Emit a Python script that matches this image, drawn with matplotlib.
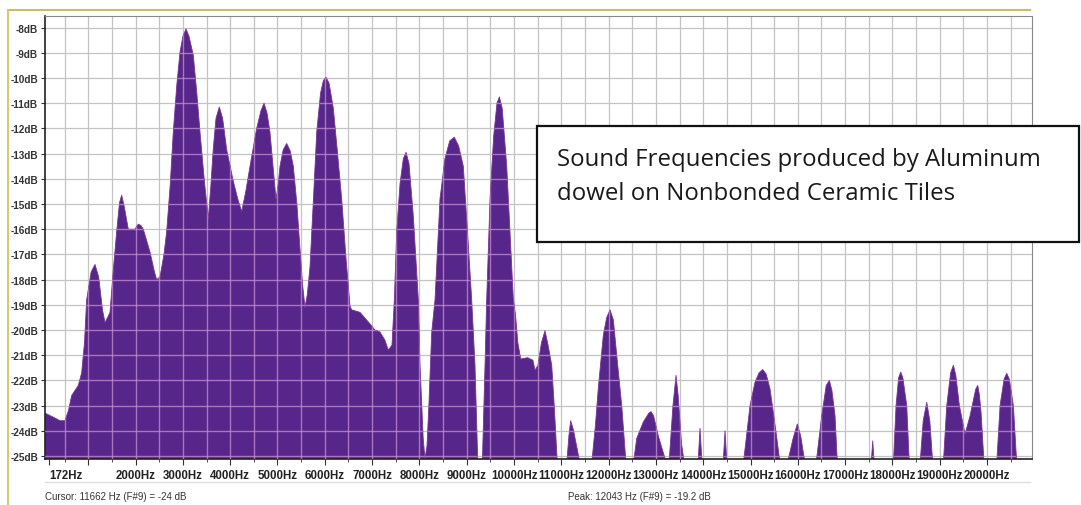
import matplotlib
matplotlib.use("Agg")
import matplotlib.pyplot as plt
from matplotlib.lines import Line2D
from matplotlib.patches import Rectangle

# spectrum: frequency in Hz, level in dB
freqs = [85, 250, 402, 507, 580, 649, 789, 860, 920, 966, 1060, 1142, 1220, 1300, 1353,
         1410, 1459, 1530, 1600, 1660, 1706, 1760, 1846, 1987, 2057, 2110, 2163, 2304,
         2400, 2446, 2516, 2600, 2657, 2730, 2797, 2870, 2939, 3000, 3066, 3130, 3220,
         3290, 3362, 3450, 3537, 3590, 3643, 3700, 3770, 3840, 3926, 4066, 4160, 4243,
         4330, 4419, 4560, 4650, 4715, 4780, 4841, 4910, 4968, 5010, 5053, 5120, 5195,
         5270, 5334, 5410, 5476, 5530, 5581, 5630, 5687, 5760, 5829, 5910, 5970, 6025,
         6090, 6180, 6260, 6357, 6450, 6533, 6568, 6744, 6956, 7060, 7167, 7270, 7343,
         7420, 7470, 7520, 7590, 7660, 7717, 7780, 7872, 7977, 8013, 8080, 8118, 8160,
         8200, 8260, 8330, 8435, 8540, 8640, 8737, 8830, 8928, 9030, 9105, 9175, 9235,
         9330, 9387, 9422, 9493, 9570, 9640, 9690, 9750, 9846, 9986, 10032, 10080, 10142,
         10288, 10400, 10444, 10506, 10580, 10655, 10720, 10797, 10850, 10916,
         11114, 11160, 11198, 11260, 11395, 11642, 11720, 11782, 11888, 11960, 12030,
         12100, 12171, 12277, 12368, 12523, 12594, 12734, 12850, 12896, 12950, 13050,
         13192, 13284, 13360, 13425, 13470, 13540, 13601, 13890, 13932, 13975, 14420,
         14461, 14500, 14848, 14989, 15095, 15180, 15257, 15330, 15412, 15539, 15624,
         15778, 15900, 15989, 16060, 16152, 16385, 16505, 16600, 16667, 16720, 16786,
         16836, 17550, 17583, 17615, 18020, 18076, 18130, 18175, 18220, 18302, 18357,
         18584, 18650, 18725, 18790, 18852, 19076, 19148, 19230, 19288, 19340, 19415,
         19535, 19641, 19760, 19803, 19840, 19873, 19937, 20204, 20275, 20360, 20416,
         20470, 20556, 20628, 20950]
levels = [-23.3, -23.45, -23.6, -23.6, -23.2, -22.6, -22.2, -21.7, -20.5, -18.8, -17.7, -17.4,
          -17.9, -19.2, -19.7, -19.5, -19.3, -17.6, -16.1, -14.95, -14.65, -15.1, -16.0,
          -16.0, -15.8, -15.85, -16.0, -16.9, -17.7, -18.0, -17.9, -17.0, -16.1, -14.3,
          -12.15, -10.3, -8.97, -8.35, -8.05, -8.35, -9.1, -10.5, -12.15, -14.0, -15.6,
          -14.3, -12.8, -11.6, -11.15, -11.6, -12.85, -14.1, -14.8, -15.3, -14.5, -13.5,
          -12.0, -11.3, -11.0, -11.4, -12.15, -13.6, -14.8, -14.3, -13.5, -12.85, -12.6,
          -12.9, -13.5, -15.0, -16.8, -18.2, -19.1, -18.6, -17.5, -14.8, -12.15, -10.6,
          -10.1, -9.97, -10.2, -11.2, -12.8, -14.8, -17.2, -19.05, -19.2, -19.3, -19.76,
          -20.0, -20.08, -20.4, -20.8, -20.6, -18.8, -16.1, -14.2, -13.2, -12.95, -13.4,
          -15.5, -18.8, -21.4, -24.3, -25.1, -24.6, -23.0, -20.1, -18.8, -14.8, -13.2,
          -12.5, -12.35, -12.7, -13.5, -16.5, -18.8, -21.4, -25.3, -25.3, -21.4, -18.8,
          -14.8, -12.3, -11.0, -10.75, -11.2, -13.5, -18.8, -19.4, -20.5, -21.15, -21.1,
          -21.2, -21.6, -21.4, -20.5, -20.03, -20.6, -21.4, -23.0, -25.3,
          -25.3, -24.2, -23.6, -24.0, -25.3, -25.3, -23.8, -22.3, -20.2, -19.5, -19.2,
          -19.6, -21.0, -23.0, -25.3, -25.3, -24.3, -23.65, -23.3, -23.24, -23.4, -24.2,
          -25.1, -25.1, -23.0, -21.8, -22.6, -24.5, -25.3, -25.3, -23.9, -25.3, -25.3,
          -24.0, -25.3, -25.3, -23.0, -22.07, -21.7, -21.57, -21.75, -22.34, -24.05, -25.3,
          -25.3, -24.3, -23.73, -24.2, -25.3, -25.3, -23.4, -22.2, -22.0, -22.4, -23.4,
          -25.3, -25.3, -24.4, -25.3, -25.3, -23.0, -21.9, -21.67, -21.9, -23.0, -25.3,
          -25.3, -23.6, -22.87, -23.6, -25.3, -25.3, -23.0, -21.7, -21.4, -21.8, -23.0,
          -24.13, -23.4, -22.35, -22.2, -22.6, -23.27, -25.3, -25.3, -23.0, -21.95, -21.72,
          -21.95, -23.0, -25.3, -25.3]

xtick_pos = [172] + list(range(1000, 20001, 1000))
xtick_labels = ["172Hz", ""] + [f"{f}Hz" for f in range(2000, 20001, 1000)]
ytick_pos = list(range(-8, -26, -1))
ytick_labels = [f"{v}dB" for v in ytick_pos]

cursor_text = "Cursor: 11662 Hz (F#9) = -24 dB"
peak_text = "Peak: 12043 Hz (F#9) = -19.2 dB"
note_lines = ["Sound Frequencies produced by Aluminum", "dowel on Nonbonded Ceramic Tiles"]

W, H = 1081, 506
fig = plt.figure(figsize=(W / 100, H / 100), dpi=100)
fig.patch.set_facecolor("white")

ax = fig.add_axes([45 / W, 1 - 460 / H, 987 / W, 443 / H])
ax.set_xlim(85, 20950)
ax.set_ylim(-25.12, -7.54)

fill_col = "#56268a"
poly = ax.fill_between(freqs, levels, -30, color=fill_col, edgecolor="#7b3494",
                       linewidth=0.6, zorder=2)

# grid: grey on white, light pink where it crosses the filled area
clip = poly.get_paths()[0]
for v in ytick_pos:
    ax.axhline(v, color="#c4c4c4", lw=0.9, zorder=1)
    ln = ax.axhline(v, color="#c98fd4", lw=1.0, alpha=0.75, zorder=3)
    ln.set_clip_path(clip, ax.transData)
for f in range(500, 20600, 500):
    ax.axvline(f, color="#c4c4c4", lw=0.9, zorder=1)
    ln = ax.axvline(f, color="#c98fd4", lw=1.0, alpha=0.75, zorder=3)
    ln.set_clip_path(clip, ax.transData)

ax.set_xticks(xtick_pos)
ax.set_xticklabels(xtick_labels, fontsize=8.3, fontweight="bold",
                   family="Liberation Sans", color="#222222")
ax.set_xticks(range(500, 20600, 1000), minor=True)
ax.xaxis.get_majorticklabels()[0].set_horizontalalignment("left")
ax.set_yticks(ytick_pos)
ax.set_yticklabels(ytick_labels, fontsize=7.2, fontweight="bold",
                   family="Liberation Sans", color="#333333")
ax.tick_params(axis="x", which="major", length=4, pad=3, color="#333333")
ax.tick_params(axis="x", which="minor", length=2, color="#333333")
ax.tick_params(axis="y", length=3, pad=2, color="#333333")

for s in ["left", "bottom"]:
    ax.spines[s].set_color("#222222")
    ax.spines[s].set_linewidth(1.2)
for s in ["top", "right"]:
    ax.spines[s].set_color("#888888")
    ax.spines[s].set_linewidth(0.8)

# window frame and separator lines
fig.add_artist(Line2D([8 / W, 1030 / W], [1 - 11 / H, 1 - 11 / H], color="#c9bb6a", lw=1.5))
fig.add_artist(Line2D([8 / W, 8 / W], [1 - 11 / H, 0], color="#d6c970", lw=1.5))
fig.add_artist(Line2D([45 / W, 1030 / W], [1 - 483 / H, 1 - 483 / H], color="#dddddd", lw=1))

fig.text(45 / W, 1 - 497 / H, cursor_text, fontsize=7, family="Liberation Sans",
         color="#333333", va="center")
fig.text(568 / W, 1 - 497 / H, peak_text, fontsize=7, family="Liberation Sans",
         color="#333333", va="center")

# note box
fig.add_artist(Rectangle((537 / W, 1 - 243 / H), (1079 - 537) / W, 116 / H,
                         transform=fig.transFigure, facecolor="white",
                         edgecolor="#111111", lw=1.6, zorder=5))
fig.text(557 / W, 1 - 166 / H, note_lines[0], fontsize=17.3, family="Open Sans",
         color="#1a1a1a", va="baseline", zorder=6)
fig.text(557 / W, 1 - 200 / H, note_lines[1], fontsize=17.3, family="Open Sans",
         color="#1a1a1a", va="baseline", zorder=6)

fig.savefig("out.png", dpi=100)
